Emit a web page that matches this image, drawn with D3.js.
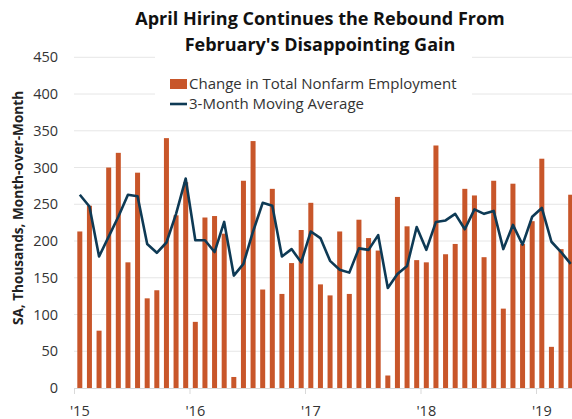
<!DOCTYPE html>
<html><head><meta charset="utf-8">
<script src="https://cdn.jsdelivr.net/npm/d3@7"></script>
<style>
html,body{margin:0;padding:0;background:#fff;}
svg{display:block;font-family:"Open Sans",sans-serif;}
</style></head>
<body>
<svg id="chart" width="572" height="419"></svg>
<script>
const months = [
 "2015-01","2015-02","2015-03","2015-04","2015-05","2015-06","2015-07","2015-08","2015-09","2015-10","2015-11","2015-12",
 "2016-01","2016-02","2016-03","2016-04","2016-05","2016-06","2016-07","2016-08","2016-09","2016-10","2016-11","2016-12",
 "2017-01","2017-02","2017-03","2017-04","2017-05","2017-06","2017-07","2017-08","2017-09","2017-10","2017-11","2017-12",
 "2018-01","2018-02","2018-03","2018-04","2018-05","2018-06","2018-07","2018-08","2018-09","2018-10","2018-11","2018-12",
 "2019-01","2019-02","2019-03","2019-04"];
const payrollChange = [
 213,248,78,300,320,171,293,122,133,340,235,280,
 90,232,234,210,15,282,336,134,271,128,170,215,
 252,141,126,213,128,229,204,187,17,260,220,174,
 171,330,182,196,271,262,178,282,108,278,196,227,
 312,56,189,263];
const movingAvg = [
 263,247,179,206,233,263,261,196,184,198,237,285,
 201,201,185,226,153,169,213,252,248,179,189,171,
 213,204,173,161,157,190,188,208,136,155,166,219,
 188,226,228,237,216,243,237,241,189,222,195,233,
 245,199,185,169];
const yearTicks = ["2015-01","2016-01","2017-01","2018-01","2019-01"];
const yearLabels = ["'15","'16","'17","'18","'19"];
const yTicks = [0,50,100,150,200,250,300,350,400,450];
const titleLines = ["April Hiring Continues the Rebound From","February's Disappointing Gain"];
const seriesNames = ["Change in Total Nonfarm Employment","3-Month Moving Average"];
const yTitle = "SA, Thousands, Month-over-Month";

const barColor = "#c8562a", lineColor = "#0e3a55";
const svg = d3.select("#chart");
const plotL = 74, plotR = 574.5, plotT = 57.3, plotB = 388;

const xEdge = d3.scaleLinear().domain([0, months.length]).range([plotL, plotR]);
const xBand = d3.scaleBand().domain(months).range([plotL + 1, plotR + 1]).paddingInner(0.48).paddingOuter(0.24);
const y = d3.scaleLinear().domain([0, 450]).range([plotB, plotT]);

// gridlines
svg.append("g").selectAll("line").data(yTicks.filter(d => d > 0)).join("line")
  .attr("x1", plotL).attr("x2", 572).attr("y1", d => y(d)).attr("y2", d => y(d))
  .attr("stroke", "#e6e6e6").attr("stroke-width", 1);

// y labels
svg.append("g").selectAll("text").data(yTicks).join("text")
  .attr("x", 58).attr("y", d => y(d)).attr("dy", "0.35em").attr("text-anchor", "end")
  .attr("font-size", 14.5).attr("fill", "#333").text(d => d);

// bars
svg.append("g").selectAll("rect").data(months).join("rect")
  .attr("x", d => xBand(d)).attr("width", xBand.bandwidth())
  .attr("y", (d, i) => y(payrollChange[i])).attr("height", (d, i) => y(0) - y(payrollChange[i]))
  .attr("fill", barColor);

// baseline axis
svg.append("line").attr("x1", plotL).attr("x2", 572).attr("y1", y(0) + 0.5).attr("y2", y(0) + 0.5)
  .attr("stroke", "#d9d9d9").attr("stroke-width", 1);
svg.append("g").selectAll("line").data(yearTicks).join("line")
  .attr("x1", d => xEdge(months.indexOf(d)) + 0.5).attr("x2", d => xEdge(months.indexOf(d)) + 0.5)
  .attr("y1", y(0)).attr("y2", y(0) + 6).attr("stroke", "#d9d9d9");
svg.append("g").selectAll("text").data(yearTicks).join("text")
  .attr("x", d => xBand(d) + xBand.bandwidth() / 2).attr("y", 411).attr("dy", "0.35em")
  .attr("text-anchor", "middle").attr("font-size", 14.5).attr("fill", "#333")
  .text((d, i) => yearLabels[i]);

// moving average line
const line = d3.line().x((d, i) => xBand(months[i]) + xBand.bandwidth() / 2).y(d => y(d));
svg.append("path").datum(movingAvg).attr("d", line).attr("fill", "none")
  .attr("stroke", lineColor).attr("stroke-width", 2.6).attr("stroke-linejoin", "round");

// legend
const lg = svg.append("g");
lg.append("rect").attr("x", 155).attr("y", 56).attr("width", 317).attr("height", 56).attr("fill", "#fff");
lg.append("rect").attr("x", 170).attr("y", 79).attr("width", 17).attr("height", 10).attr("fill", barColor);
lg.append("line").attr("x1", 170).attr("x2", 187).attr("y1", 104).attr("y2", 104)
  .attr("stroke", lineColor).attr("stroke-width", 2.6);
lg.selectAll("text").data(seriesNames).join("text")
  .attr("x", 189).attr("y", (d, i) => 84 + i * 20).attr("dy", "0.35em")
  .attr("font-size", 15).attr("fill", "#333").text(d => d);

// title
svg.append("g").selectAll("text").data(titleLines).join("text")
  .attr("x", 320).attr("y", (d, i) => 19 + i * 26).attr("dy", "0.35em").attr("text-anchor", "middle")
  .attr("font-size", 18).attr("font-weight", "bold").attr("fill", "#111").text(d => d);

// y title
svg.append("text").attr("transform", "translate(18,208) rotate(-90)").attr("dy", "0.35em")
  .attr("text-anchor", "middle").attr("font-size", 13.6).attr("font-weight", "bold").attr("fill", "#222")
  .text(yTitle);
</script>
</body></html>
